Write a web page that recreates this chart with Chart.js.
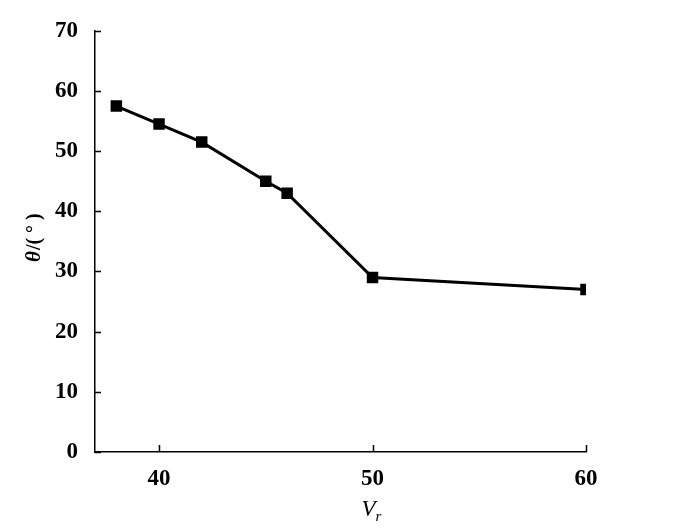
<!DOCTYPE html>
<html>
<head>
<meta charset="utf-8">
<script src="https://cdn.jsdelivr.net/npm/chart.js@4.4.0/dist/chart.umd.min.js"></script>
<style>
  html, body { margin: 0; padding: 0; background: #fff; }
  #wrap { width: 700px; height: 530px; position: relative; }
</style>
</head>
<body>
<div id="wrap"><canvas id="chart"></canvas></div>
<script>
const vr = [38, 40, 42, 45, 46, 50, 60]
const theta = [57.5, 54.5, 51.5, 45, 43, 29, 27]
const xTicks = [40, 50, 60]
const yTicks = [0, 10, 20, 30, 40, 50, 60, 70]

const FONT = "'Liberation Serif', 'Times New Roman', Times, serif"

// inward tick marks + axis titles (V with subscript r, theta label)
const axisExtras = {
  id: 'axisExtras',
  afterDraw(chart) {
    const { ctx, chartArea, scales } = chart
    const x = scales.x, y = scales.y
    ctx.save()
    ctx.strokeStyle = '#000'
    ctx.lineWidth = 1.5
    ctx.beginPath()
    xTicks.forEach(v => {
      const px = Math.round(x.getPixelForValue(v)) + 0.5
      ctx.moveTo(px, chartArea.bottom)
      ctx.lineTo(px, chartArea.bottom - 7)
    })
    yTicks.forEach(v => {
      const py = Math.round(y.getPixelForValue(v)) + 0.5
      ctx.moveTo(chartArea.left, py)
      ctx.lineTo(chartArea.left + 6, py)
    })
    ctx.stroke()

    ctx.fillStyle = '#000'
    // x title
    const cx = x.getPixelForValue(50)
    ctx.font = 'italic 23px ' + FONT
    ctx.textBaseline = 'alphabetic'
    ctx.textAlign = 'left'
    const vw = ctx.measureText('V').width
    ctx.fillText('V', cx - vw / 2 - 4, 516)
    ctx.font = 'italic 15px ' + FONT
    ctx.fillText('r', cx + vw / 2 - 4, 521)

    // y title
    ctx.translate(40, 240)
    ctx.rotate(-Math.PI / 2)
    ctx.textAlign = 'left'
    ctx.font = 'italic bold 21px ' + FONT
    const tw = ctx.measureText('θ').width
    ctx.fillText('θ', -22, 0)
    ctx.font = 'bold 20px ' + FONT
    ctx.fillText('/( ° )', -22 + tw + 1, 0)
    ctx.restore()
  }
}

new Chart(document.getElementById('chart'), {
  type: 'line',
  data: {
    datasets: [{
      data: vr.map((v, i) => ({ x: v, y: theta[i] })),
      borderColor: '#000',
      backgroundColor: '#000',
      borderWidth: 3,
      pointStyle: 'rect',
      pointRadius: 6,
      pointHoverRadius: 6,
      tension: 0
    }]
  },
  options: {
    responsive: true,
    maintainAspectRatio: false,
    animation: false,
    layout: { padding: { top: 30, right: 114, left: 0, bottom: 0 } },
    plugins: { legend: { display: false }, tooltip: { enabled: false } },
    scales: {
      x: {
        type: 'linear',
        min: 37,
        max: 60,
        afterBuildTicks: s => { s.ticks = xTicks.map(v => ({ value: v })) },
        afterFit: s => { s.height = 78 },
        grid: { display: false, drawTicks: false },
        border: { display: true, color: '#000', width: 1.5 },
        ticks: {
          color: '#000',
          padding: 13,
          font: { family: FONT, size: 23, weight: 'bold' }
        }
      },
      y: {
        min: 0,
        max: 70,
        afterBuildTicks: s => { s.ticks = yTicks.map(v => ({ value: v })) },
        afterFit: s => { s.width = 95 },
        grid: { display: false, drawTicks: false },
        border: { display: true, color: '#000', width: 1.5 },
        ticks: {
          color: '#000',
          padding: 17,
          font: { family: FONT, size: 23, weight: 'bold' }
        }
      }
    }
  },
  plugins: [axisExtras]
})
</script>
</body>
</html>
